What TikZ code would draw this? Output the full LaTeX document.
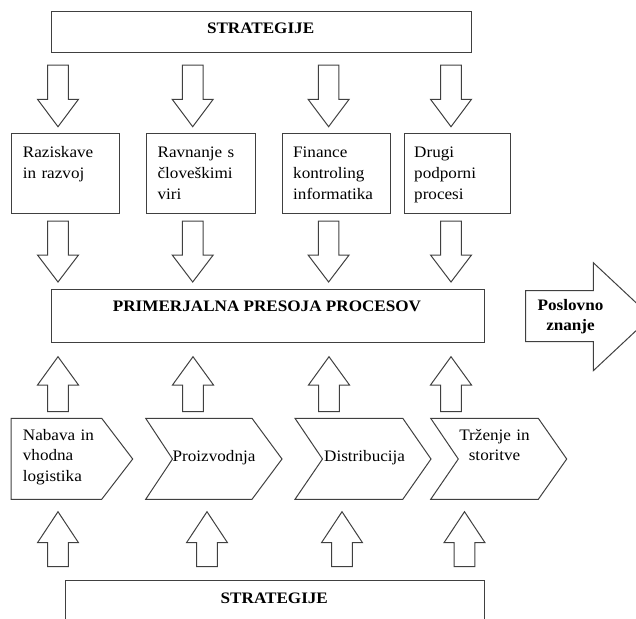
\documentclass[tikz,border=0pt]{standalone}
\usepackage{fontspec}
\setmainfont{Liberation Serif}[FakeStretch=1.07]
\definecolor{linegray}{gray}{0.25}
% hollow block arrow: centre x, shaft end y, head base y, tip y
\newcommand\blockarr[4]{%
  \draw[arrowline] (#1-10.3,#2) -- (#1+10.3,#2) -- (#1+10.3,#3) -- (#1+20.5,#3)
    -- (#1,#4) -- (#1-20.5,#3) -- (#1-10.3,#3) -- cycle;}
% chevron of the value chain: left x, notch x, right corner x, tip x
\newcommand\chev[4]{%
  \draw[arrowline] (#1,418.3) -- (#3,418.3) -- (#4,459) -- (#3,499.3)
    -- (#1,499.3) -- (#2,459) -- cycle;}
\begin{document}
\begin{tikzpicture}[x=1pt,y=-1pt,
  arrowline/.style={draw=linegray,line width=1pt,line join=miter},
  box/.style={draw=linegray,line width=1pt,inner sep=0pt,anchor=north west},
  lbl/.style={font=\fontsize{16}{20.7}\selectfont,inner sep=0pt,text=black},
  head/.style={lbl,font=\fontsize{16}{20.7}\selectfont\bfseries}]
\useasboundingbox (0,0) rectangle (636,618);
\clip (0,0) rectangle (636,618);

% top strategy bar
\node[box,minimum width=419.9,minimum height=40.7] (strTop) at (50.7,11) {};
\node[head,anchor=base] (strTopT) at (260.6,33.3) {STRATEGIJE};

% arrows from strategies to support processes
\foreach \cx in {58,192.7,328.6,451} {\blockarr{\cx}{65}{99.3}{126.7}}

% support processes
\node[box,minimum width=108,minimum height=79.4] (sup1) at (11,133.3) {};
\node[box,minimum width=109.5,minimum height=79.4] (sup2) at (145.5,133.3) {};
\node[box,minimum width=107.5,minimum height=79.4] (sup3) at (282,133.3) {};
\node[box,minimum width=106.4,minimum height=79.4] (sup4) at (403.6,133.3) {};
\node[lbl,anchor=base west,text width=95,align=left] (sup1t) at (22.7,157.7) {Raziskave\\in razvoj};
\node[lbl,anchor=base west,text width=95,align=left] (sup2t) at (157.4,157.7) {Ravnanje s\\človeškimi\\viri};
\node[lbl,anchor=base west,text width=95,align=left] (sup3t) at (293,157.7) {Finance\\kontroling\\informatika};
\node[lbl,anchor=base west,text width=95,align=left] (sup4t) at (414,157.7) {Drugi\\podporni\\procesi};

% arrows from support processes to benchmarking
\foreach \cx in {58,192.7,328.6,451} {\blockarr{\cx}{221}{255}{282}}

% benchmarking bar
\node[box,minimum width=432.8,minimum height=53.3] (bench) at (50.7,289) {};
\node[head,anchor=base] (benchT) at (267,311.7) {PRIMERJALNA PRESOJA PROCESOV};

% business knowledge arrow
\draw[arrowline] (525.7,290.7) -- (593.3,290.7) -- (593.3,262.7) -- (651,316.7)
  -- (593.3,370.7) -- (593.3,341.7) -- (525.7,341.7) -- cycle;
\node[head,anchor=base,text width=90,align=center] (know) at (570.5,310) {Poslovno\\znanje};

% arrows from primary processes to benchmarking
\foreach \cx in {58,193,329,451} {\blockarr{\cx}{411.7}{385}{356.7}}

% primary processes (value chain)
\chev{11}{11}{101.7}{132.7}
\chev{145.7}{172.5}{252}{282}
\chev{295}{322.5}{402.8}{431}
\chev{430.7}{458.3}{538.3}{566.7}
\node[lbl,anchor=base west,text width=95,align=left] (pri1) at (22.7,440) {Nabava in\\vhodna\\logistika};
\node[lbl,anchor=base west] (pri2) at (172.5,461) {Proizvodnja};
\node[lbl,anchor=base west] (pri3) at (324,461) {Distribucija};
\node[lbl,anchor=base,text width=90,align=center] (pri4) at (494.5,440) {Trženje in\\storitve};

% arrows from strategies to primary processes
\foreach \cx in {58,207,342,464.5} {\blockarr{\cx}{566.7}{542.7}{511.7}}

% bottom strategy bar
\node[box,minimum width=418.6,minimum height=60] (strBot) at (65,580) {};
\node[head,anchor=base] (strBotT) at (274.3,603.3) {STRATEGIJE};
\end{tikzpicture}
\end{document}
